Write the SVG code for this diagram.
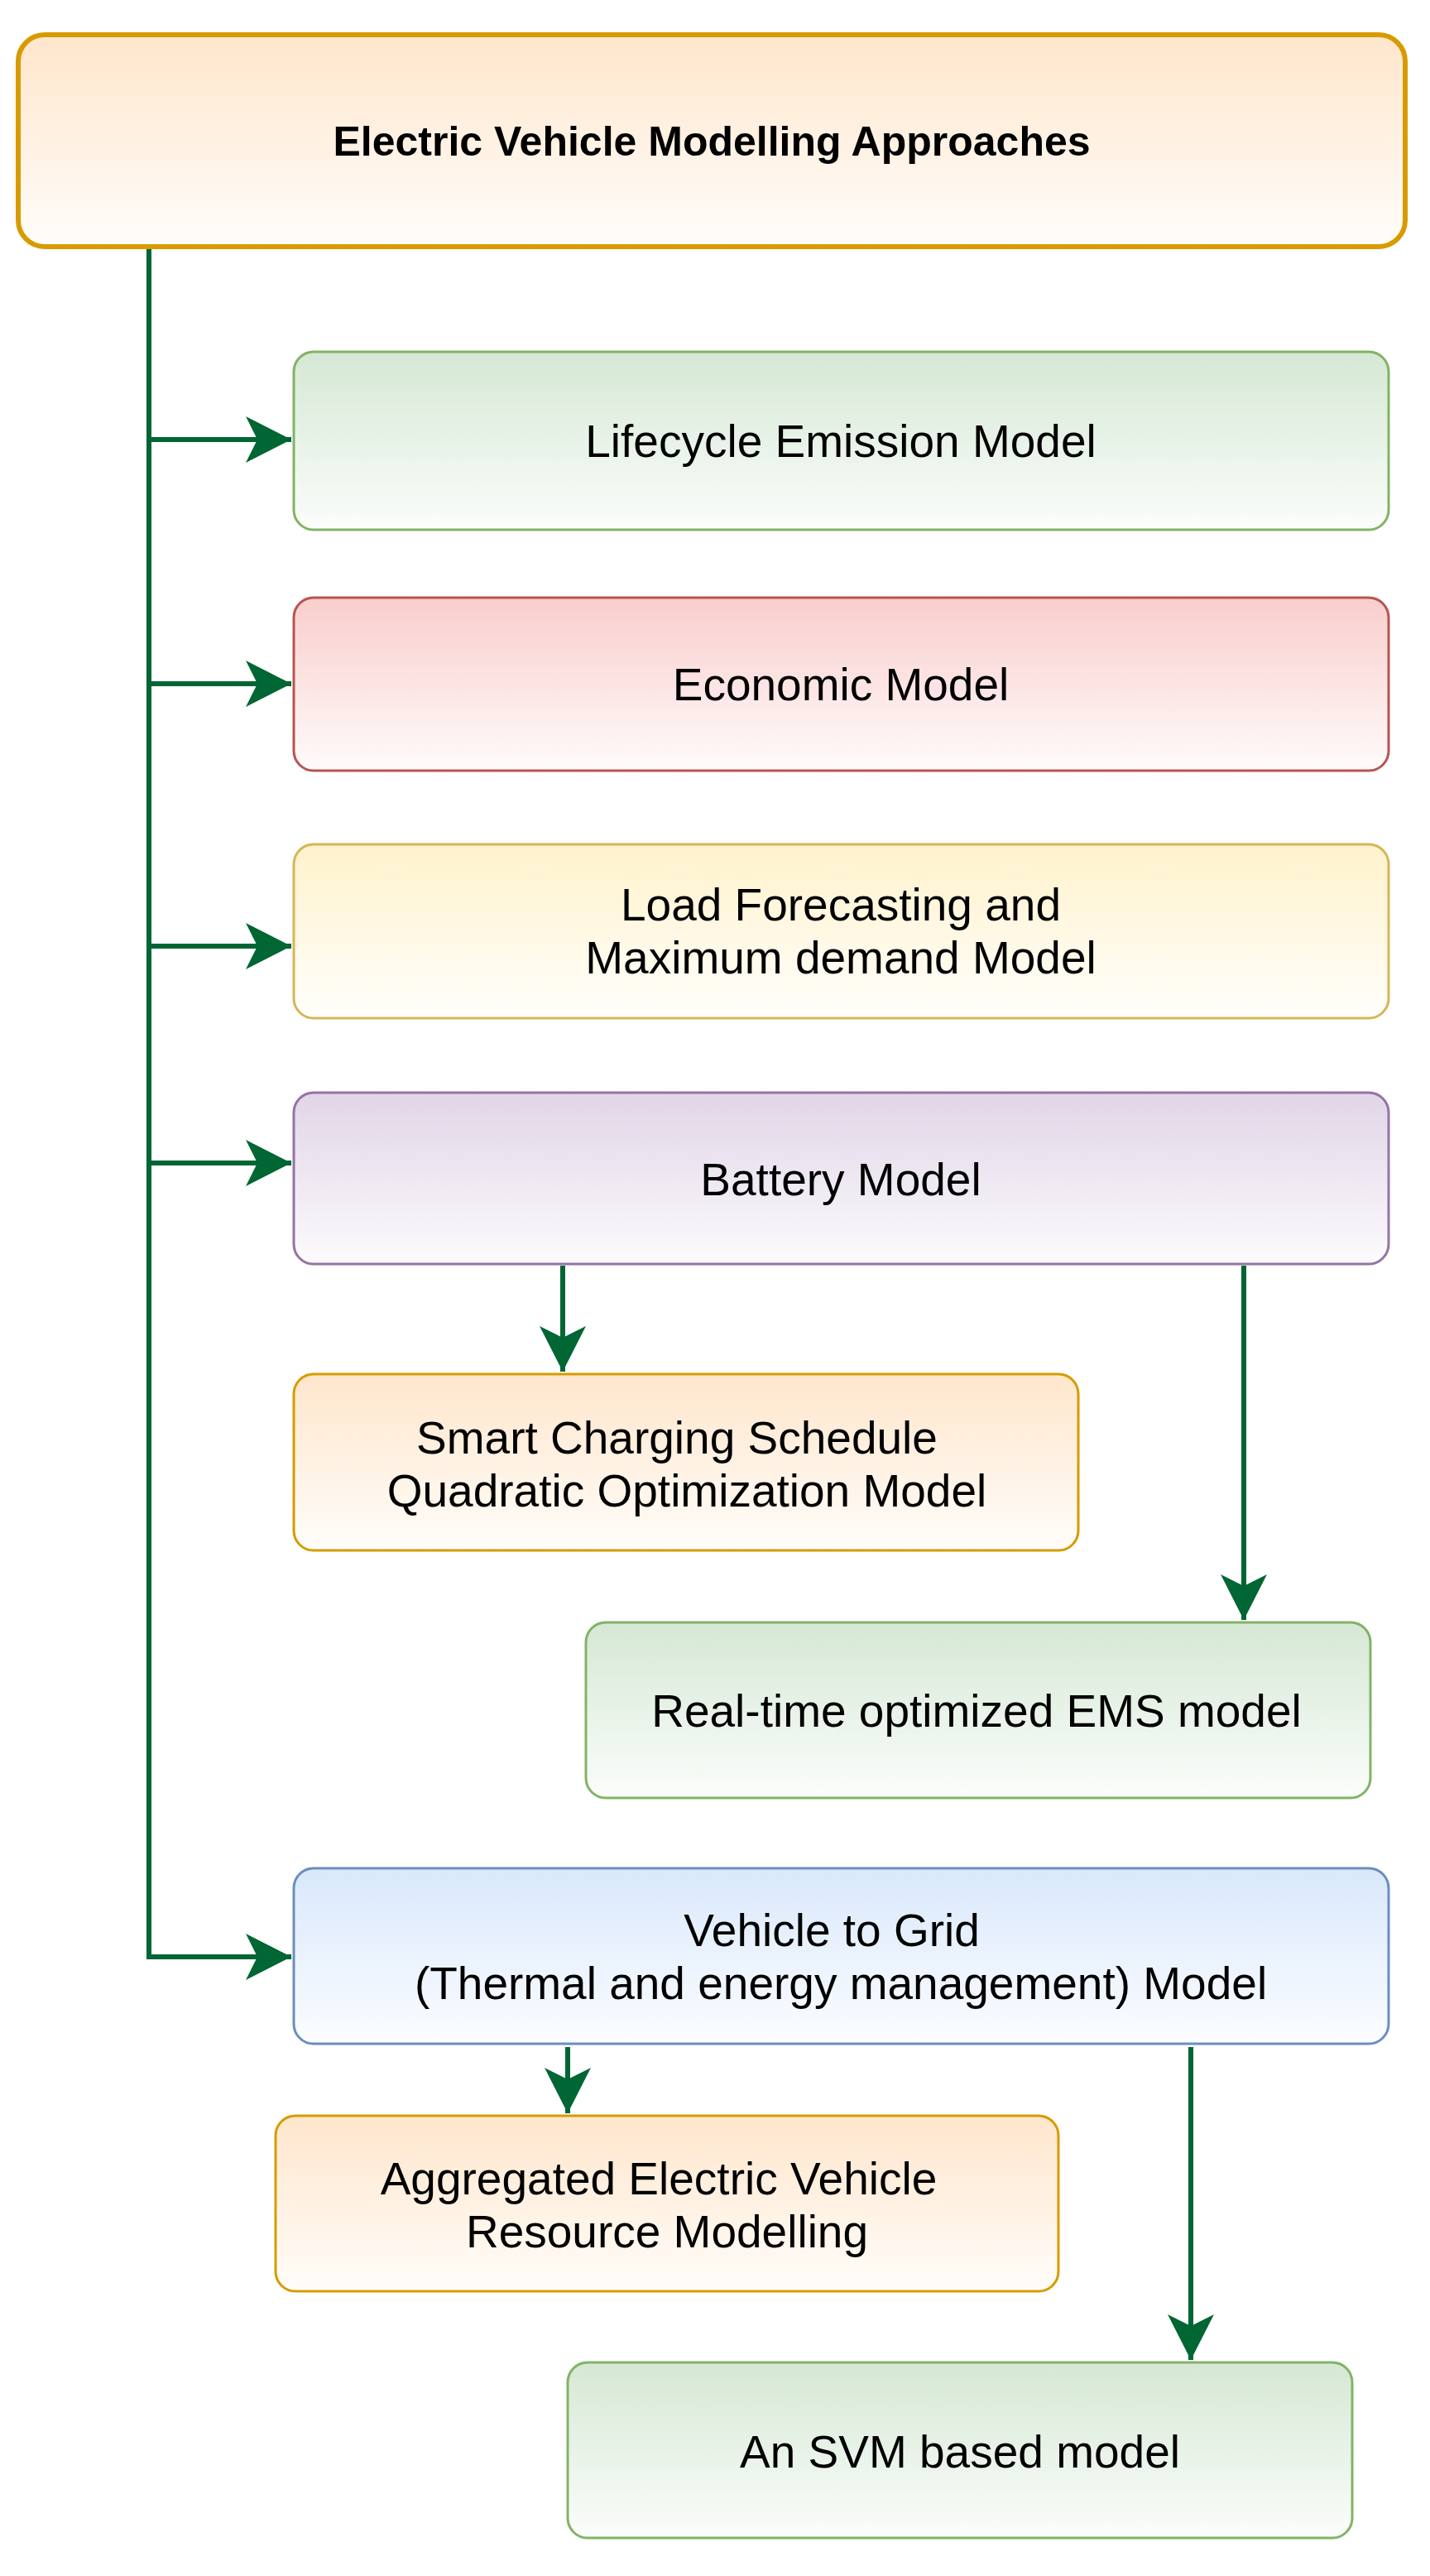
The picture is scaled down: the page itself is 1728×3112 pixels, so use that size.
<svg xmlns="http://www.w3.org/2000/svg" width="1728" height="3112" viewBox="0 0 1728 3112">
<style>
text{font-family:"Liberation Sans",Arial,sans-serif;font-size:55px;fill:#000;text-anchor:middle}
.t{font-weight:bold;font-size:50px}
.c{fill:none;stroke:#006633;stroke-width:6}
</style>
<defs>
<marker id="ah" markerUnits="userSpaceOnUse" markerWidth="64" markerHeight="64" refX="55" refY="28" orient="auto"><path d="M0,0 L55,28 L0,56 L14,28 Z" fill="#006633"/></marker>
<linearGradient id="gO" x1="0" y1="0" x2="0" y2="1"><stop offset="0" stop-color="#ffe6cc"/><stop offset="1" stop-color="#fffdfa"/></linearGradient>
<linearGradient id="gG" x1="0" y1="0" x2="0" y2="1"><stop offset="0" stop-color="#d5e8d4"/><stop offset="1" stop-color="#fbfdfb"/></linearGradient>
<linearGradient id="gR" x1="0" y1="0" x2="0" y2="1"><stop offset="0" stop-color="#f8cecc"/><stop offset="1" stop-color="#fffbfb"/></linearGradient>
<linearGradient id="gY" x1="0" y1="0" x2="0" y2="1"><stop offset="0" stop-color="#fff2cc"/><stop offset="1" stop-color="#fffefb"/></linearGradient>
<linearGradient id="gP" x1="0" y1="0" x2="0" y2="1"><stop offset="0" stop-color="#e1d5e7"/><stop offset="1" stop-color="#fcfbfd"/></linearGradient>
<linearGradient id="gB" x1="0" y1="0" x2="0" y2="1"><stop offset="0" stop-color="#dae8fc"/><stop offset="1" stop-color="#fbfdff"/></linearGradient>
</defs>
<rect width="1728" height="3112" fill="#fff"/>
<g id="connectors">
<path class="c" d="M180,299 V2364 H352" marker-end="url(#ah)"/>
<path class="c" d="M180,531 H352" marker-end="url(#ah)"/>
<path class="c" d="M180,826 H352" marker-end="url(#ah)"/>
<path class="c" d="M180,1143 H352" marker-end="url(#ah)"/>
<path class="c" d="M180,1405 H352" marker-end="url(#ah)"/>
<path class="c" d="M680,1529 V1657" marker-end="url(#ah)"/>
<path class="c" d="M1503,1529 V1957" marker-end="url(#ah)"/>
<path class="c" d="M686,2473 V2553" marker-end="url(#ah)"/>
<path class="c" d="M1439,2473 V2851" marker-end="url(#ah)"/>
</g>
<g id="root"><rect x="22" y="42" width="1676" height="256" rx="32" fill="url(#gO)" stroke="#d79b00" stroke-width="6"/><text class="t" x="860" y="188">Electric Vehicle Modelling Approaches</text></g>
<g id="lifecycle"><rect x="355" y="425" width="1323" height="215" rx="24" fill="url(#gG)" stroke="#82b366" stroke-width="3"/><text x="1016" y="552">Lifecycle Emission Model</text></g>
<g id="economic"><rect x="355" y="722" width="1323" height="209" rx="24" fill="url(#gR)" stroke="#b85450" stroke-width="3"/><text x="1016" y="846">Economic Model</text></g>
<g id="load"><rect x="355" y="1020" width="1323" height="210" rx="24" fill="url(#gY)" stroke="#d6b656" stroke-width="3"/><text x="1016" y="1112">Load Forecasting and</text><text x="1016" y="1176">Maximum demand Model</text></g>
<g id="battery"><rect x="355" y="1320" width="1323" height="207" rx="24" fill="url(#gP)" stroke="#9673a6" stroke-width="3"/><text x="1016" y="1444">Battery Model</text></g>
<g id="smart"><rect x="355" y="1660" width="948" height="213" rx="24" fill="url(#gO)" stroke="#d79b00" stroke-width="3"/><text x="818" y="1756">Smart Charging Schedule</text><text x="830" y="1820">Quadratic Optimization Model</text></g>
<g id="ems"><rect x="708" y="1960" width="948" height="212" rx="24" fill="url(#gG)" stroke="#82b366" stroke-width="3"/><text x="1180" y="2086">Real-time optimized EMS model</text></g>
<g id="v2g"><rect x="355" y="2257" width="1323" height="212" rx="24" fill="url(#gB)" stroke="#6c8ebf" stroke-width="3"/><text x="1005" y="2351">Vehicle to Grid</text><text x="1016" y="2415">(Thermal and energy management) Model</text></g>
<g id="aggregated"><rect x="333" y="2556" width="946" height="212" rx="24" fill="url(#gO)" stroke="#d79b00" stroke-width="3"/><text x="796" y="2651">Aggregated Electric Vehicle</text><text x="806" y="2715">Resource Modelling</text></g>
<g id="svm"><rect x="686" y="2854" width="948" height="212" rx="24" fill="url(#gG)" stroke="#82b366" stroke-width="3"/><text x="1160" y="2981">An SVM based model</text></g>
</svg>
